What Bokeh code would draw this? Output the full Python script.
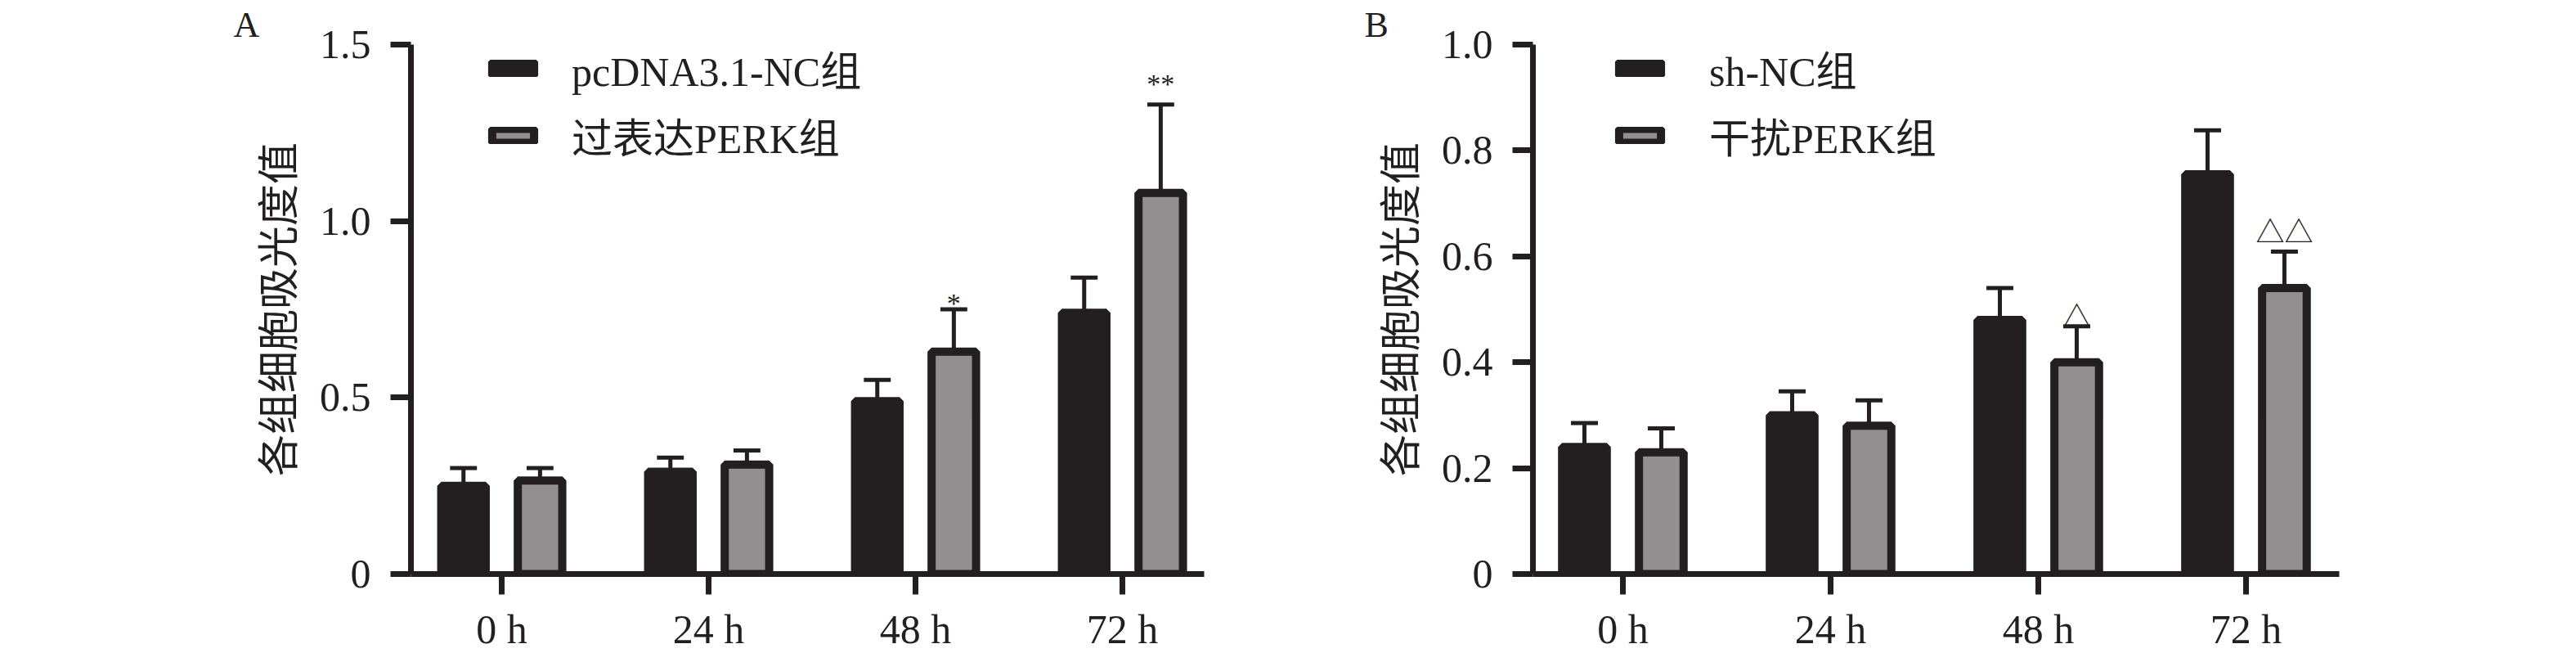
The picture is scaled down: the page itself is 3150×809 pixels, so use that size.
import numpy as np
from bokeh.plotting import figure
from bokeh.layouts import row
from bokeh.models import Range1d, FixedTicker, Title
from bokeh.core.properties import value
from bokeh.embed import file_html
from bokeh.resources import INLINE

# time points (x categories)
timepoints = ["0 h", "24 h", "48 h", "72 h"]

# panel A: pcDNA3.1-NC vs PERK overexpression
a_names = ["pcDNA3.1-NC组", "过表达PERK组"]
a_ctrl = [0.25, 0.29, 0.49, 0.74]
a_ctrl_sd = [0.05, 0.04, 0.06, 0.10]
a_trt = [0.265, 0.31, 0.63, 1.08]
a_trt_sd = [0.035, 0.04, 0.12, 0.25]
a_yticks = [0, 0.5, 1.0, 1.5]
a_ylabels = ["0", "0.5", "1.0", "1.5"]
a_marks = ["*", "**"]
a_mark_idx = [2, 3]
a_mark_y = [0.768, 1.388]

# panel B: sh-NC vs PERK knockdown
b_names = ["sh-NC组", "干扰PERK组"]
b_ctrl = [0.24, 0.30, 0.48, 0.755]
b_ctrl_sd = [0.045, 0.045, 0.06, 0.083]
b_trt = [0.23, 0.28, 0.40, 0.54]
b_trt_sd = [0.045, 0.048, 0.068, 0.069]
b_yticks = [0, 0.2, 0.4, 0.6, 0.8, 1.0]
b_ylabels = ["0", "0.2", "0.4", "0.6", "0.8", "1.0"]
b_marks = ["△", "△△"]
b_mark_idx = [2, 3]
b_mark_y = [0.490, 0.650]

y_title = "各组细胞吸光度值"

SERIF = "Liberation Serif, Noto Sans CJK SC"
INK = "#231f20"
GREY = "#918f90"


def make_panel(letter, letter_off, names, ctrl, ctrl_sd, trt, trt_sd,
               yticks, ylabels, marks, mark_idx, mark_y, mark_font, mark_size,
               x_range, frame_w, left, right, legend_loc, standoff):
    p = figure(frame_width=frame_w, frame_height=647,
               min_border_left=left, min_border_right=right,
               min_border_top=54, min_border_bottom=92,
               x_range=Range1d(*x_range), y_range=Range1d(0, yticks[-1]),
               title=None, toolbar_location=None, output_backend="svg")
    p.outline_line_color = None
    p.grid.visible = False

    # panel letter
    p.add_layout(Title(text=letter, align="left", offset=letter_off, standoff=0,
                       text_font=SERIF, text_font_size="44px",
                       text_font_style="normal", text_color=INK), "above")

    xs = np.arange(len(timepoints))
    for off, mean, sd in [(-0.185, ctrl, ctrl_sd), (0.185, trt, trt_sd)]:
        bx = xs + off
        top = np.array(mean) + np.array(sd)
        p.segment(bx, mean, bx, top, line_width=5, line_color=INK)
        p.segment(bx - 0.065, top, bx + 0.065, top, line_width=5, line_color=INK)

    p.vbar(x=xs - 0.185, top=ctrl, width=0.215, fill_color=INK,
           line_color=INK, line_width=10, legend_label=names[0])
    p.vbar(x=xs + 0.185, top=trt, width=0.215, fill_color=GREY,
           line_color=INK, line_width=10, legend_label=names[1])

    p.text(x=[i + 0.185 for i in mark_idx], y=mark_y, text=marks,
           text_align="center", text_baseline="alphabetic",
           text_font=value(mark_font), text_font_size=mark_size, text_color=INK)

    # axes
    p.xaxis.ticker = FixedTicker(ticks=list(xs))
    p.xaxis.major_label_overrides = {int(i): t for i, t in zip(xs, timepoints)}
    p.yaxis.ticker = FixedTicker(ticks=yticks)
    p.yaxis.major_label_overrides = {v: s for v, s in zip(yticks, ylabels)}
    for ax in (p.xaxis, p.yaxis):
        ax.axis_line_width = 7
        ax.axis_line_color = INK
        ax.major_tick_line_width = 7
        ax.major_tick_line_color = INK
        ax.major_tick_out = 25
        ax.major_tick_in = 0
        ax.minor_tick_line_color = None
        ax.major_label_text_font = SERIF
        ax.major_label_text_font_size = "50px"
        ax.major_label_text_color = INK
    p.xaxis.major_label_standoff = 14
    p.yaxis.major_label_standoff = 24
    p.yaxis.axis_label = y_title
    p.yaxis.axis_label_text_font = SERIF
    p.yaxis.axis_label_text_font_size = "51px"
    p.yaxis.axis_label_text_font_style = "normal"
    p.yaxis.axis_label_text_color = INK
    p.yaxis.axis_label_standoff = 18

    # legend
    lg = p.legend[0]
    lg.location = legend_loc
    lg.border_line_color = None
    lg.background_fill_alpha = 0
    lg.padding = 0
    lg.margin = 0
    lg.spacing = 10
    lg.glyph_width = 64
    lg.glyph_height = 21
    lg.label_standoff = standoff
    lg.label_text_font = SERIF
    lg.label_text_font_size = "50px"
    lg.label_text_color = INK
    return p


pa = make_panel("A", -217, a_names, a_ctrl, a_ctrl_sd, a_trt, a_trt_sd,
                a_yticks, a_ylabels, a_marks, a_mark_idx, a_mark_y,
                "Liberation Serif", "34px",
                (-0.439, 3.395), 970, 502, 95, (93, 500), 40)
pb = make_panel("B", -206, b_names, b_ctrl, b_ctrl_sd, b_trt, b_trt_sd,
                b_yticks, b_ylabels, b_marks, b_mark_idx, b_mark_y,
                "Noto Sans CJK SC", "35px",
                (-0.433, 3.449), 986, 307, 274, (99, 500), 53)

layout = row(pa, pb)
open("out.html", "w").write(file_html(layout, INLINE))
